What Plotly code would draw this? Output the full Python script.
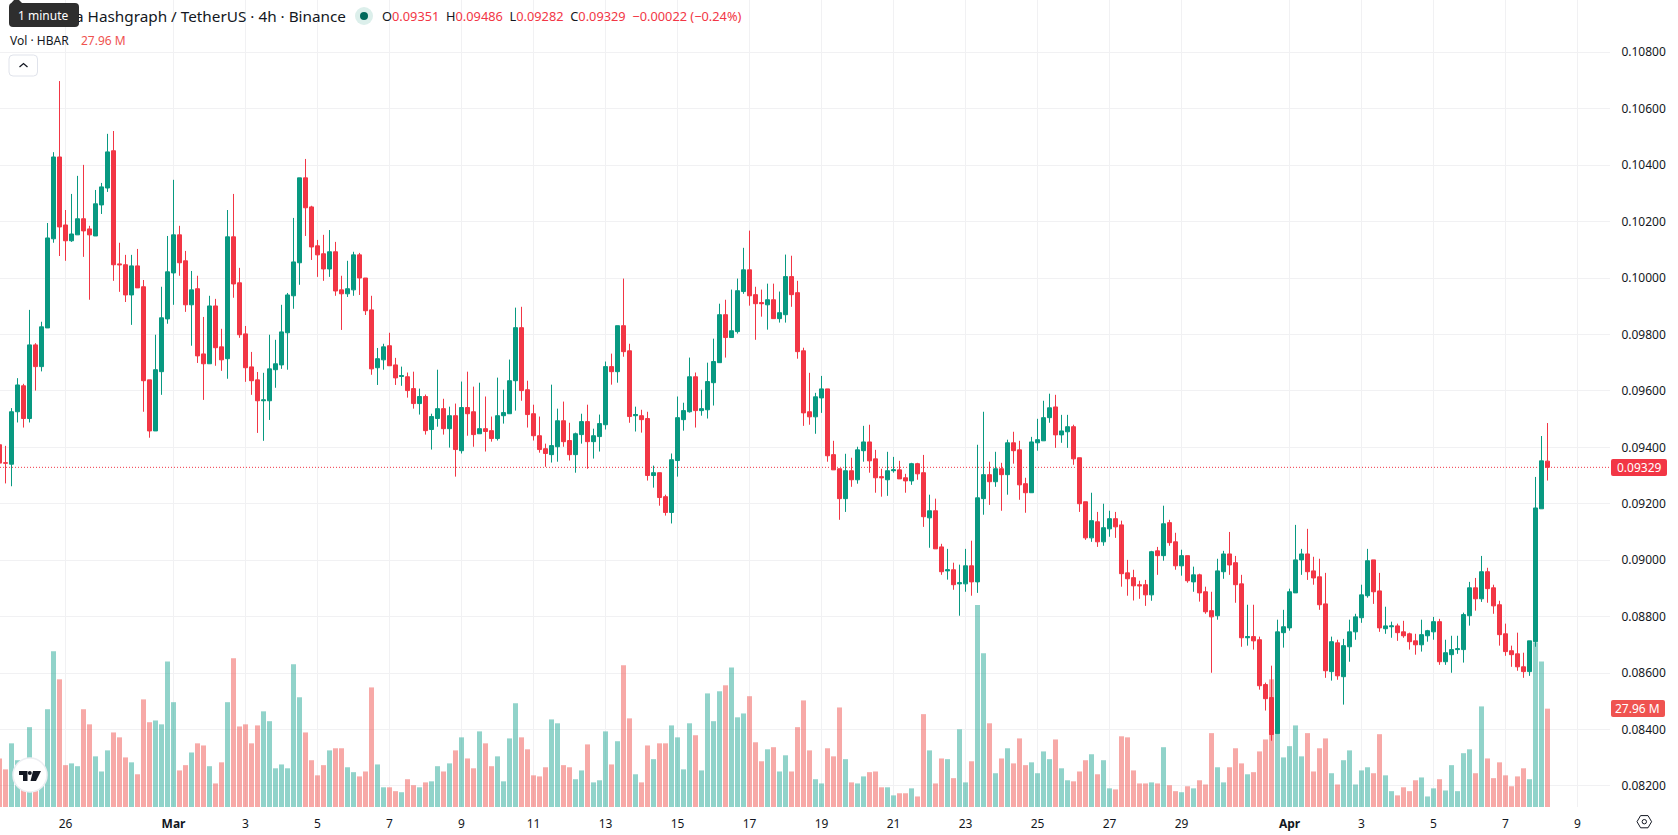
import pandas as pd
import plotly.graph_objects as go

# 4h HBAR/USDT candles, oldest first
opens = [
    0.09409,0.09345,0.09340,0.09526,0.09618,0.09502,0.09763,0.09686,0.09823,0.10139,
    0.10429,0.10188,0.10132,0.10153,0.10210,0.10174,0.10149,0.10259,0.10319,0.10451,
    0.10050,0.10047,0.09940,0.10043,0.09969,0.09639,0.09458,0.09668,0.09855,0.10018,
    0.10153,0.10061,0.09905,0.09962,0.09731,0.09696,0.09901,0.09756,0.09714,0.10146,
    0.09983,0.09802,0.09685,0.09639,0.09565,0.09565,0.09675,0.09692,0.09806,0.09937,
    0.10054,0.10355,0.10252,0.10114,0.10086,0.10032,0.10093,0.09958,0.09944,0.09958,
    0.10082,0.10000,0.09887,0.09682,0.09710,0.09760,0.09692,0.09651,0.09650,0.09608,
    0.09555,0.09580,0.09463,0.09502,0.09537,0.09466,0.09512,0.09388,0.09541,0.09526,
    0.09448,0.09466,0.09459,0.09431,0.09512,0.09519,0.09636,0.09824,0.09604,0.09519,
    0.09441,0.09395,0.09374,0.09402,0.09494,0.09424,0.09374,0.09445,0.09491,0.09420,
    0.09438,0.09480,0.09686,0.09668,0.09831,0.09742,0.09512,0.09512,0.09502,0.09300,
    0.09310,0.09225,0.09169,0.09353,0.09498,0.09526,0.09650,0.09530,0.09533,0.09629,
    0.09700,0.09870,0.09789,0.09810,0.09952,0.10029,0.09941,0.09913,0.09905,0.09923,
    0.09856,0.09870,0.10005,0.09948,0.09742,0.09526,0.09508,0.09575,0.09607,0.09374,
    0.09324,0.09218,0.09317,0.09285,0.09388,0.09419,0.09359,0.09296,0.09285,0.09317,
    0.09320,0.09292,0.09281,0.09342,0.09310,0.09150,0.09175,0.09047,0.08962,0.08966,
    0.08916,0.08916,0.08980,0.08923,0.09218,0.09303,0.09278,0.09324,0.09303,0.09416,
    0.09391,0.09271,0.09239,0.09416,0.09423,0.09505,0.09543,0.09444,0.09455,0.09473,
    0.09363,0.09207,0.09079,0.09136,0.09065,0.09111,0.09147,0.09125,0.08955,0.08938,
    0.08913,0.08913,0.08877,0.09033,0.09016,0.09133,0.09065,0.08980,0.09016,0.08923,
    0.08948,0.08888,0.08821,0.08803,0.08959,0.09022,0.08991,0.08916,0.08725,0.08729,
    0.08718,0.08559,0.08513,0.08385,0.08743,0.08760,0.08884,0.09001,0.09022,0.08962,
    0.08941,0.08845,0.08605,0.08707,0.08587,0.08693,0.08746,0.08796,0.08874,0.09001,
    0.08891,0.08757,0.08764,0.08767,0.08746,0.08739,0.08714,0.08700,0.08732,0.08746,
    0.08782,0.08640,0.08665,0.08683,0.08683,0.08803,0.08902,0.08863,0.08959,0.08902,
    0.08842,0.08739,0.08679,0.08668,0.08622,0.08605,0.08711,0.09182,0.09351,
]
highs = [
    0.09412,0.09405,0.09539,0.09645,0.09625,0.09887,0.09769,0.09845,0.10195,0.10446,
    0.10698,0.10241,0.10298,0.10362,0.10401,0.10185,0.10312,0.10337,0.10511,0.10521,
    0.10125,0.10082,0.10082,0.10103,0.09993,0.09639,0.09799,0.09969,0.10149,0.10348,
    0.10185,0.10096,0.10025,0.10008,0.09862,0.09937,0.09926,0.09820,0.10241,0.10298,
    0.10036,0.09830,0.09738,0.09667,0.09664,0.09799,0.09781,0.09905,0.09947,0.10213,
    0.10355,0.10422,0.10256,0.10135,0.10153,0.10170,0.10128,0.10008,0.10061,0.10093,
    0.10089,0.10000,0.09937,0.09752,0.09767,0.09806,0.09717,0.09686,0.09665,0.09668,
    0.09608,0.09587,0.09519,0.09675,0.09572,0.09544,0.09555,0.09633,0.09668,0.09615,
    0.09629,0.09580,0.09509,0.09647,0.09604,0.09711,0.09895,0.09898,0.09636,0.09551,
    0.09509,0.09413,0.09622,0.09537,0.09562,0.09487,0.09452,0.09519,0.09551,0.09466,
    0.09516,0.09704,0.09732,0.09831,0.09998,0.09767,0.09544,0.09533,0.09526,0.09335,
    0.09310,0.09232,0.09378,0.09580,0.09558,0.09718,0.09665,0.09604,0.09700,0.09785,
    0.09909,0.09923,0.09959,0.09998,0.10107,0.10168,0.09969,0.09959,0.09980,0.09980,
    0.09952,0.10083,0.10079,0.09990,0.09753,0.09664,0.09593,0.09653,0.09607,0.09423,
    0.09324,0.09377,0.09363,0.09402,0.09476,0.09480,0.09391,0.09324,0.09384,0.09366,
    0.09352,0.09306,0.09345,0.09345,0.09373,0.09232,0.09218,0.09058,0.09040,0.08991,
    0.08984,0.09040,0.09069,0.09409,0.09526,0.09349,0.09384,0.09345,0.09427,0.09455,
    0.09423,0.09292,0.09437,0.09501,0.09565,0.09590,0.09586,0.09515,0.09515,0.09480,
    0.09363,0.09207,0.09239,0.09171,0.09200,0.09175,0.09171,0.09140,0.09001,0.08966,
    0.08927,0.08930,0.09033,0.09047,0.09193,0.09143,0.09097,0.09037,0.09016,0.08977,
    0.08952,0.08906,0.08888,0.09005,0.09033,0.09100,0.09015,0.08948,0.08842,0.08842,
    0.08729,0.08566,0.08626,0.08789,0.08824,0.08899,0.09125,0.09040,0.09111,0.09012,
    0.09005,0.08955,0.08729,0.08718,0.08721,0.08789,0.08810,0.08913,0.09040,0.09001,
    0.08955,0.08835,0.08782,0.08775,0.08785,0.08743,0.08739,0.08789,0.08753,0.08799,
    0.08792,0.08718,0.08732,0.08732,0.08814,0.08923,0.08937,0.09015,0.08973,0.08913,
    0.08856,0.08775,0.08697,0.08743,0.08672,0.08714,0.09295,0.09440,0.09486,
]
lows = [
    0.09330,0.09272,0.09262,0.09488,0.09470,0.09488,0.09601,0.09669,0.09823,0.10125,
    0.10078,0.10061,0.10128,0.10153,0.10075,0.09923,0.10149,0.10227,0.10305,0.09990,
    0.09951,0.09915,0.09834,0.09965,0.09526,0.09434,0.09458,0.09586,0.09838,0.09905,
    0.10008,0.09880,0.09760,0.09699,0.09568,0.09696,0.09689,0.09671,0.09643,0.09930,
    0.09788,0.09632,0.09586,0.09451,0.09423,0.09497,0.09611,0.09678,0.09675,0.09891,
    0.09976,0.10149,0.10064,0.10004,0.09990,0.10004,0.09937,0.09816,0.09933,0.09937,
    0.09940,0.09869,0.09657,0.09621,0.09675,0.09689,0.09621,0.09618,0.09576,0.09537,
    0.09516,0.09445,0.09392,0.09473,0.09445,0.09399,0.09296,0.09378,0.09441,0.09402,
    0.09448,0.09385,0.09420,0.09424,0.09484,0.09519,0.09530,0.09565,0.09470,0.09424,
    0.09381,0.09331,0.09346,0.09349,0.09402,0.09353,0.09310,0.09413,0.09324,0.09360,
    0.09385,0.09463,0.09622,0.09629,0.09721,0.09487,0.09456,0.09452,0.09282,0.09257,
    0.09193,0.09158,0.09130,0.09296,0.09459,0.09523,0.09470,0.09512,0.09502,0.09548,
    0.09700,0.09718,0.09789,0.09803,0.09944,0.09902,0.09781,0.09863,0.09817,0.09856,
    0.09842,0.09842,0.09898,0.09714,0.09476,0.09480,0.09448,0.09522,0.09349,0.09320,
    0.09143,0.09171,0.09260,0.09271,0.09349,0.09310,0.09239,0.09225,0.09228,0.09310,
    0.09288,0.09239,0.09267,0.09285,0.09118,0.09044,0.09040,0.08948,0.08931,0.08895,
    0.08803,0.08888,0.08874,0.08884,0.09161,0.09196,0.09260,0.09175,0.09232,0.09342,
    0.09214,0.09168,0.09239,0.09388,0.09423,0.09487,0.09398,0.09416,0.09398,0.09338,
    0.09171,0.09072,0.09065,0.09047,0.09051,0.09083,0.09079,0.08906,0.08874,0.08857,
    0.08863,0.08838,0.08856,0.08948,0.08998,0.09051,0.08966,0.08945,0.08920,0.08888,
    0.08853,0.08810,0.08601,0.08789,0.08934,0.08948,0.08849,0.08693,0.08697,0.08683,
    0.08541,0.08467,0.08360,0.08385,0.08690,0.08750,0.08884,0.08948,0.08930,0.08913,
    0.08824,0.08583,0.08573,0.08576,0.08488,0.08640,0.08718,0.08778,0.08867,0.08845,
    0.08746,0.08739,0.08725,0.08714,0.08725,0.08683,0.08665,0.08676,0.08711,0.08718,
    0.08629,0.08629,0.08601,0.08668,0.08637,0.08768,0.08821,0.08852,0.08849,0.08810,
    0.08697,0.08661,0.08622,0.08608,0.08583,0.08590,0.08693,0.09182,0.09282,
]
closes = [
    0.09344,0.09344,0.09526,0.09621,0.09502,0.09763,0.09686,0.09827,0.10142,0.10429,
    0.10181,0.10132,0.10156,0.10210,0.10167,0.10153,0.10263,0.10323,0.10447,0.10047,
    0.10047,0.09940,0.10043,0.09965,0.09636,0.09458,0.09675,0.09859,0.10022,0.10153,
    0.10054,0.09905,0.09958,0.09724,0.09696,0.09901,0.09753,0.09710,0.10146,0.09979,
    0.09799,0.09682,0.09636,0.09565,0.09568,0.09678,0.09696,0.09809,0.09940,0.10057,
    0.10355,0.10249,0.10110,0.10082,0.10032,0.10093,0.09954,0.09944,0.09962,0.10082,
    0.10000,0.09884,0.09678,0.09714,0.09756,0.09689,0.09646,0.09654,0.09601,0.09555,
    0.09580,0.09459,0.09509,0.09537,0.09466,0.09512,0.09392,0.09541,0.09519,0.09445,
    0.09466,0.09456,0.09431,0.09512,0.09523,0.09636,0.09824,0.09601,0.09516,0.09441,
    0.09392,0.09378,0.09406,0.09494,0.09420,0.09374,0.09448,0.09491,0.09420,0.09441,
    0.09484,0.09686,0.09668,0.09831,0.09739,0.09509,0.09516,0.09498,0.09300,0.09310,
    0.09222,0.09169,0.09356,0.09505,0.09530,0.09650,0.09530,0.09537,0.09633,0.09704,
    0.09870,0.09789,0.09813,0.09955,0.10029,0.09937,0.09909,0.09909,0.09923,0.09856,
    0.09877,0.10005,0.09941,0.09739,0.09522,0.09508,0.09579,0.09607,0.09370,0.09320,
    0.09218,0.09317,0.09285,0.09391,0.09419,0.09352,0.09292,0.09292,0.09317,0.09320,
    0.09288,0.09281,0.09342,0.09306,0.09154,0.09175,0.09040,0.08959,0.08966,0.08913,
    0.08920,0.08980,0.08923,0.09221,0.09303,0.09278,0.09324,0.09303,0.09416,0.09388,
    0.09267,0.09239,0.09419,0.09427,0.09505,0.09540,0.09444,0.09458,0.09473,0.09359,
    0.09200,0.09079,0.09140,0.09065,0.09115,0.09147,0.09118,0.08952,0.08934,0.08909,
    0.08909,0.08877,0.09030,0.09016,0.09129,0.09062,0.08980,0.09016,0.08927,0.08948,
    0.08884,0.08817,0.08799,0.08962,0.09022,0.08983,0.08913,0.08725,0.08729,0.08714,
    0.08555,0.08509,0.08382,0.08746,0.08764,0.08888,0.09001,0.09022,0.08959,0.08937,
    0.08842,0.08608,0.08711,0.08590,0.08697,0.08746,0.08799,0.08877,0.08998,0.08888,
    0.08760,0.08767,0.08767,0.08743,0.08732,0.08711,0.08700,0.08736,0.08750,0.08782,
    0.08640,0.08672,0.08683,0.08686,0.08807,0.08902,0.08863,0.08959,0.08899,0.08838,
    0.08736,0.08676,0.08665,0.08622,0.08605,0.08714,0.09185,0.09352,0.09329,
]
# traded volume per candle, millions of HBAR
volumes = [
    13.8,10.7,18.1,13.3,7.0,22.7,7.0,9.5,27.8,44.3,
    36.3,11.9,12.4,11.6,27.8,23.5,14.4,10.1,16.1,21.2,
    19.8,14.1,12.7,9.3,30.6,24.1,24.6,23.5,41.4,29.8,
    10.4,11.9,15.5,18.1,17.5,11.6,6.7,12.7,29.8,42.3,
    22.9,23.5,18.1,23.2,27.2,24.4,11.0,12.1,11.0,40.6,
    31.2,21.2,13.3,9.0,11.9,16.1,16.7,16.7,11.3,9.9,
    8.7,10.1,34.0,12.1,5.6,5.6,4.5,4.2,7.9,6.2,
    5.6,7.0,7.3,11.6,10.1,12.4,16.1,19.8,13.8,11.0,
    21.5,18.1,11.6,14.4,7.3,19.5,29.5,19.8,16.4,9.0,
    8.7,11.3,24.9,23.8,11.9,11.3,7.9,10.4,17.8,7.0,
    7.6,21.5,12.1,18.7,40.3,25.2,9.3,7.0,17.5,13.6,
    18.1,18.1,23.2,19.8,10.7,23.8,20.4,10.4,32.3,24.4,
    32.9,34.6,39.7,25.5,26.6,31.5,18.4,13.0,16.4,17.0,
    10.1,14.7,10.1,22.7,30.3,16.1,7.9,6.7,16.7,14.4,
    28.3,13.6,7.0,6.7,8.7,9.9,10.1,5.6,5.6,3.3,
    3.9,3.9,5.3,3.0,26.4,16.1,6.7,13.8,13.6,8.2,
    22.1,7.0,13.0,57.4,43.7,23.8,9.6,13.8,16.7,12.4,
    19.5,11.9,12.7,9.6,15.8,13.6,19.2,11.0,7.6,7.3,
    10.1,13.3,15.0,9.3,13.3,5.3,5.0,20.1,19.8,10.4,
    6.7,6.7,7.0,6.7,17.0,6.2,4.5,4.2,5.9,5.3,
    7.6,6.4,21.0,11.3,7.0,11.3,16.7,12.4,9.3,9.9,
    15.8,19.2,36.3,20.7,14.1,17.3,23.2,14.4,21.0,10.1,
    16.7,19.5,9.6,6.4,13.3,16.1,6.4,10.4,11.3,9.6,
    20.7,9.0,4.5,3.3,5.6,4.5,7.6,8.4,3.0,5.3,
    7.9,4.7,11.9,4.5,15.3,16.4,9.6,28.6,13.8,8.2,
    12.7,9.0,5.9,8.7,11.0,7.9,46.8,41.4,27.96,
]
first_candle = "2025-02-24 04:00"
price_ticks = [0.082, 0.084, 0.086, 0.088, 0.090, 0.092, 0.094, 0.096, 0.098, 0.100, 0.102, 0.104, 0.106, 0.108]
date_ticks = ["2025-02-26", "2025-03-01", "2025-03-03", "2025-03-05", "2025-03-07", "2025-03-09", "2025-03-11",
              "2025-03-13", "2025-03-15", "2025-03-17", "2025-03-19", "2025-03-21", "2025-03-23", "2025-03-25",
              "2025-03-27", "2025-03-29", "2025-04-01", "2025-04-03", "2025-04-05", "2025-04-07", "2025-04-09"]
date_labels = ["26", "<b>Mar</b>", "3", "5", "7", "9", "11", "13", "15", "17", "19", "21", "23", "25",
               "27", "29", "<b>Apr</b>", "3", "5", "7", "9"]
last_price = 0.09329

UP = "#089981"
DOWN = "#F23645"
VOL_UP = "rgba(36,168,150,0.5)"
VOL_DOWN = "rgba(239,83,80,0.5)"
VOL_TAG = "#EF5350"
GRID = "#f1f1f3"
INK = "#131722"
FONT = "Noto Sans, Open Sans, sans-serif"

WIDTH, HEIGHT = 1678, 835
PLOT_W, PLOT_H = 1610, 807
PX_PER_HOUR = 1.5
PX_PER_MILLION = 3.517
PX_PER_PRICE = 28215


def fx(x):
    return x / PLOT_W


def fy(y):
    return 1 - y / PLOT_H


def rounded(x0, y0, x1, y1, r):
    a, b, c, d = fx(x0), fy(y0), fx(x1), fy(y1)
    rx, ry = r / PLOT_W, r / PLOT_H
    return (f"M{a + rx},{b} L{c - rx},{b} Q{c},{b} {c},{b - ry} L{c},{d + ry} Q{c},{d} {c - rx},{d} "
            f"L{a + rx},{d} Q{a},{d} {a},{d + ry} L{a},{b - ry} Q{a},{b} {a + rx},{b} Z")


def poly(points):
    return "M" + " L".join(f"{fx(x)},{fy(y)}" for x, y in points) + " Z"


def panel_shape(path=None, fill="rgba(0,0,0,0)", line=None, width=0, **kw):
    base = dict(xref="paper", yref="paper", fillcolor=fill, line=dict(color=line or fill, width=width), layer="above")
    if path:
        base.update(type="path", path=path)
    base.update(kw)
    return base


def circle(cx, cy, r, fill, line=None, width=0):
    return panel_shape(fill=fill, line=line, width=width, type="circle",
                       x0=fx(cx - r), x1=fx(cx + r), y0=fy(cy + r), y1=fy(cy - r))


def label(x, y, text, size=13, color=INK, anchor="left", **kw):
    return dict(xref="paper", yref="paper", x=fx(x), y=fy(y), text=text, showarrow=False,
                xanchor=anchor, yanchor="middle", align=anchor,
                font=dict(family=FONT, size=size, color=color), borderpad=0, **kw)


times = pd.date_range(first_candle, periods=len(opens), freq="4h")
bar_colors = [VOL_UP if c >= o else VOL_DOWN for o, c in zip(opens, closes)]

fig = go.Figure()
fig.add_trace(go.Bar(x=times, y=volumes, marker=dict(color=bar_colors, line_width=0),
                     yaxis="y", showlegend=False, hoverinfo="skip"))
fig.add_trace(go.Candlestick(
    x=times, open=opens, high=highs, low=lows, close=closes, yaxis="y2", showlegend=False,
    increasing=dict(line=dict(color=UP, width=1), fillcolor=UP),
    decreasing=dict(line=dict(color=DOWN, width=1), fillcolor=DOWN),
    whiskerwidth=0,
))

march_first = pd.Timestamp("2025-03-01")
x_start = march_first - pd.Timedelta(hours=173.5 / PX_PER_HOUR)
x_end = march_first + pd.Timedelta(hours=(PLOT_W - 173.5) / PX_PER_HOUR)
y_at_094 = 447.3
price_top = 0.094 + y_at_094 / PX_PER_PRICE
price_bottom = 0.094 - (PLOT_H - y_at_094) / PX_PER_PRICE

# Header, indicator line, last-value tags and small chart controls
shapes = [
    dict(type="line", xref="paper", yref="y2", x0=0, x1=1, y0=last_price, y1=last_price,
         line=dict(color=DOWN, width=1, dash="1px,2px"), layer="below"),
    panel_shape(rounded(1611, 459, 1667, 476, 2), fill=DOWN),
    panel_shape(rounded(1611, 700, 1665, 717, 2), fill=VOL_TAG),
    circle(364, 16, 9, "#dcefeb"),
    circle(364, 16, 4, "#00695C"),
    panel_shape(rounded(9, 55, 37.5, 76, 4), fill="#ffffff", line="#e0e3eb", width=1),
    panel_shape("M" + " L".join(f"{fx(x)},{fy(y)}" for x, y in [(19.5, 67), (23.5, 63.5), (27.5, 67)]),
                line=INK, width=1.3),
    panel_shape(rounded(9, 3, 79, 27, 4), fill="#2e2e2e"),
    panel_shape(poly([(9.5, 5), (14, 0), (19, 0), (24, 5)]), fill="#2e2e2e"),
    circle(30, 775, 17, "#ffffff", line="#eceef2", width=1.5),
    panel_shape(poly([(19, 771), (27.5, 771), (27.5, 781), (23, 781), (23, 775), (19, 775)]), fill="#131722"),
    circle(29.8, 773, 2, "#131722"),
    panel_shape(poly([(33, 771), (41, 771), (36, 781), (30.5, 781)]), fill="#131722"),
    panel_shape(poly([(1637, 821.7), (1640.6, 815.6), (1648, 815.6), (1651.6, 821.7), (1648, 827.8), (1640.6, 827.8)]),
                line=INK, width=1),
    circle(1644.3, 821.7, 2.2, "rgba(0,0,0,0)", line=INK, width=1),
]

red = lambda s: f'<span style="color:{DOWN}">{s}</span>'
annotations = [
    label(74, 16, "a Hashgraph / TetherUS · 4h · Binance", size=15.3),
    label(381, 16, "O" + red("0.09351") + "  H" + red("0.09486") + "  L" + red("0.09282")
          + "  C" + red("0.09329") + "  " + red("−0.00022 (−0.24%)"), size=12.8),
    label(9, 40.5, "Vol · HBAR", size=12),
    label(80, 40.5, "27.96 M", size=12, color=VOL_TAG),
    # tooltip body sits over the start of the header line
    dict(xref="paper", yref="paper", x=fx(79), y=fy(7), xanchor="right", yanchor="top", text="&nbsp;",
         showarrow=False, width=50, height=16, bgcolor="#2e2e2e", borderpad=0),
    label(43, 15.5, "1 minute", size=12, color="#ffffff", anchor="center"),
    label(1639, 467.5, "0.09329", size=12, color="#ffffff", anchor="center"),
    label(1638, 708.5, "27.96 M", size=12, color="#ffffff", anchor="center"),
]

fig.update_layout(
    width=WIDTH, height=HEIGHT, autosize=False,
    margin=dict(l=0, r=WIDTH - PLOT_W, t=0, b=HEIGHT - PLOT_H, pad=0),
    paper_bgcolor="#ffffff", plot_bgcolor="#ffffff",
    font=dict(family=FONT, size=12, color=INK),
    showlegend=False, barmode="overlay", bargap=1 / 6,
    boxgap=0.2, boxgroupgap=0.167,
    hovermode=False,
    xaxis=dict(type="date", range=[x_start, x_end], rangeslider=dict(visible=False),
               tickmode="array", tickvals=date_ticks, ticktext=date_labels,
               showgrid=True, gridcolor=GRID, gridwidth=1, zeroline=False, showline=False,
               ticks="outside", ticklen=6, tickcolor="rgba(0,0,0,0)",
               tickfont=dict(family=FONT, size=12, color=INK)),
    yaxis=dict(visible=False, range=[0, PLOT_H / PX_PER_MILLION], showgrid=False, zeroline=False, fixedrange=True),
    yaxis2=dict(overlaying="y", side="right", range=[price_bottom, price_top],
                tickmode="array", tickvals=price_ticks, tickformat=".5f",
                showgrid=True, gridcolor=GRID, gridwidth=1, zeroline=False, showline=False,
                ticks="outside", ticklen=8, tickcolor="rgba(0,0,0,0)",
                tickfont=dict(family=FONT, size=12, color=INK)),
    shapes=shapes,
    annotations=annotations,
)

fig.write_html("out.html", config=dict(displayModeBar=False))
